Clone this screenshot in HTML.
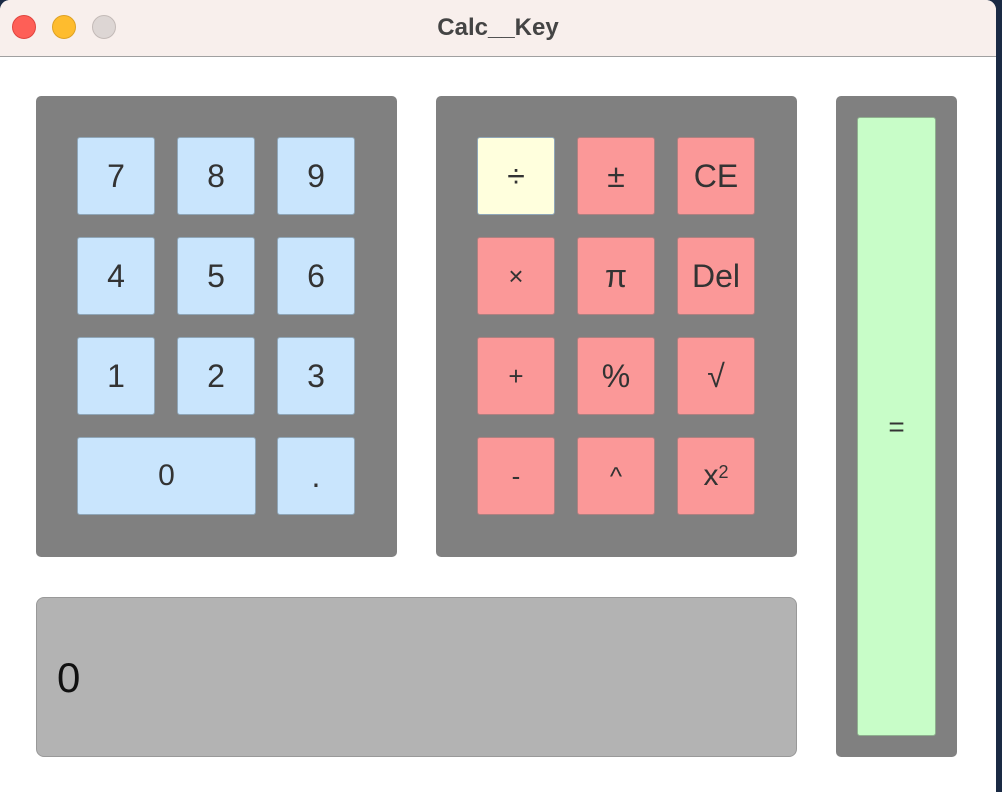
<!DOCTYPE html>
<html><head><meta charset="utf-8"><style>
body{margin:0;width:1002px;height:792px;overflow:hidden;background:#1a2a44;font-family:"Liberation Sans",sans-serif;position:relative}
.win{position:absolute;left:0;top:0;width:996px;height:792px;background:#fff;border-radius:10px 10px 0 0;overflow:hidden}
.tb{position:absolute;left:0;top:0;width:996px;height:56px;background:#f8efec;border-bottom:1px solid #a0a0a0}
.dot{position:absolute;top:15px;width:24px;height:24px;border-radius:50%;box-sizing:border-box}
.title{position:absolute;top:0;left:0;width:996px;text-align:center;line-height:56px;font-weight:bold;font-size:24px;color:#444}
.panel{position:absolute;background:#808080;border-radius:5px}
.b{position:absolute;width:78px;height:78px;box-sizing:border-box;border:1px solid #8fa6b8;border-radius:3px;display:flex;align-items:center;justify-content:center;font-size:32px;color:#333}
.n{background:#c9e5fd}.o{background:#fb9898;border-color:#b08080}
</style></head><body>
<div class="win">
<div class="tb">
<div class="dot" style="left:12px;background:#fe5f57;border:1px solid #e0443e"></div>
<div class="dot" style="left:52px;background:#febc2e;border:1px solid #dea123"></div>
<div class="dot" style="left:92px;background:#ddd6d4;border:1px solid #c3bab7"></div>
<div class="title">Calc__Key</div>
</div>
<div class="panel" style="left:36px;top:96px;width:361px;height:461px"></div>
<div class="panel" style="left:436px;top:96px;width:361px;height:461px"></div>
<div class="panel" style="left:836px;top:96px;width:121px;height:661px"></div>
<div class="b n" style="left:77px;top:137px">7</div>
<div class="b n" style="left:177px;top:137px">8</div>
<div class="b n" style="left:277px;top:137px">9</div>
<div class="b n" style="left:77px;top:237px">4</div>
<div class="b n" style="left:177px;top:237px">5</div>
<div class="b n" style="left:277px;top:237px">6</div>
<div class="b n" style="left:77px;top:337px">1</div>
<div class="b n" style="left:177px;top:337px">2</div>
<div class="b n" style="left:277px;top:337px">3</div>
<div class="b n" style="left:77px;top:437px;width:179px;font-size:30px">0</div>
<div class="b n" style="left:277px;top:437px">.</div>
<div class="b" style="left:477px;top:137px;background:#ffffdd">÷</div>
<div class="b o" style="left:577px;top:137px">±</div>
<div class="b o" style="left:677px;top:137px">CE</div>
<div class="b o" style="left:477px;top:237px;font-size:26px">×</div>
<div class="b o" style="left:577px;top:237px">π</div>
<div class="b o" style="left:677px;top:237px">Del</div>
<div class="b o" style="left:477px;top:337px;font-size:26px">+</div>
<div class="b o" style="left:577px;top:337px">%</div>
<div class="b o" style="left:677px;top:337px">√</div>
<div class="b o" style="left:477px;top:437px;font-size:26px">-</div>
<div class="b o" style="left:577px;top:437px;font-size:26px">^</div>
<div class="b o" style="left:677px;top:437px;font-size:30px">x<sup style="font-size:18px;position:relative;top:-4px">2</sup></div>
<div class="b" style="left:857px;top:117px;width:79px;height:619px;background:#c8fdc8;border-color:#8fb08f;font-size:28px">=</div>
<div style="position:absolute;left:36px;top:597px;width:761px;height:160px;box-sizing:border-box;background:#b3b3b3;border:1px solid #999;border-radius:8px;font-size:42px;color:#111;line-height:160px;padding-left:20px">0</div>
</div>
</body></html>
